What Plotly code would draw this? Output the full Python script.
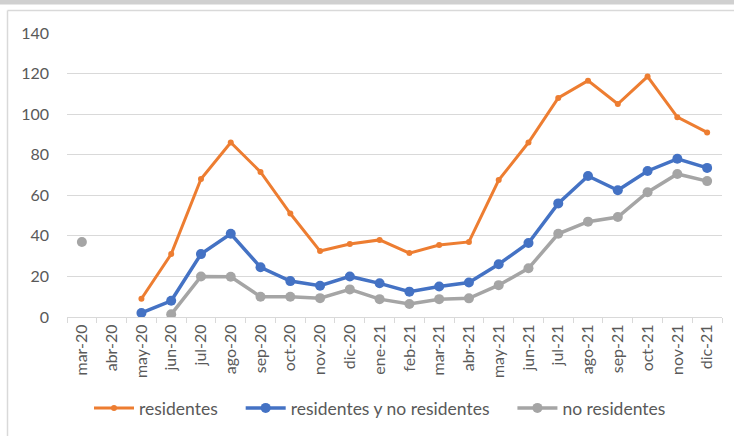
import plotly.graph_objects as go

months = ["mar-20", "abr-20", "may-20", "jun-20", "jul-20", "ago-20", "sep-20", "oct-20",
          "nov-20", "dic-20", "ene-21", "feb-21", "mar-21", "abr-21", "may-21", "jun-21",
          "jul-21", "ago-21", "sep-21", "oct-21", "nov-21", "dic-21"]

residentes = [None, None, 9, 31, 68, 86, 71.5, 51, 32.5, 36, 38, 31.5, 35.5, 37, 67.5, 86,
              108, 116.5, 105, 118.5, 98.5, 91]
res_y_no_res = [None, None, 2, 8, 31, 41, 24.5, 17.7, 15.4, 20, 16.6, 12.5, 15, 17, 26, 36.5,
                56, 69.5, 62.5, 72, 78, 73.5]
no_residentes = [37, None, None, 1.3, 20, 19.8, 10, 10, 9.3, 13.6, 8.8, 6.4, 8.8, 9.2, 15.7, 24,
                 41, 47, 49.3, 61.5, 70.5, 67]

y_ticks = [0, 20, 40, 60, 80, 100, 120, 140]

FONT = "Lato, 'Liberation Sans', sans-serif"
TXT = "#595959"
PAD = "\u00a0" * 4

fig = go.Figure()
fig.add_trace(go.Scatter(x=months, y=residentes, name="residentes" + PAD, mode="lines+markers",
                         line=dict(color="#ED7D31", width=3), marker=dict(size=6, color="#ED7D31"),
                         connectgaps=False))
fig.add_trace(go.Scatter(x=months, y=res_y_no_res, name="residentes y no residentes" + PAD,
                         mode="lines+markers",
                         line=dict(color="#4472C4", width=3.5), marker=dict(size=10, color="#4472C4"),
                         connectgaps=False))
fig.add_trace(go.Scatter(x=months, y=no_residentes, name="no residentes", mode="lines+markers",
                         line=dict(color="#A5A5A5", width=3.5), marker=dict(size=10, color="#A5A5A5"),
                         connectgaps=False))

W, H = 734, 436
L, R, T, B = 67, 734 - 722, 33, 436 - 317
pw, ph = W - L - R, H - T - B

def px(x):
    return (x - L) / pw

def py(y):
    return (H - B - y) / ph

shapes = [
    dict(type="rect", xref="paper", yref="paper", x0=px(-10), x1=px(740), y0=py(-10), y1=py(4.5),
         fillcolor="#D0D0D0", line=dict(width=0), layer="below"),
    dict(type="line", xref="paper", yref="paper", x0=px(7.5), x1=px(740), y0=py(10.5), y1=py(10.5),
         line=dict(color="#D9D9D9", width=1.5)),
    dict(type="line", xref="paper", yref="paper", x0=px(7.5), x1=px(7.5), y0=py(10.5), y1=py(440),
         line=dict(color="#D9D9D9", width=1.5)),
]

fig.update_layout(
    width=W, height=H,
    margin=dict(l=L, r=R, t=T, b=B, autoexpand=False),
    paper_bgcolor="white", plot_bgcolor="white",
    font=dict(family=FONT, color=TXT, size=14),
    shapes=shapes,
    showlegend=True,
    hovermode=False,
    legend=dict(orientation="h", x=px(380), xanchor="center", y=py(408), yanchor="middle",
                font=dict(size=17.5, color=TXT, family=FONT), itemwidth=40,
                traceorder="normal"),
    xaxis=dict(type="category", categoryorder="array", categoryarray=months,
               range=[-0.5, len(months) - 0.5], automargin=False,
               tickangle=-90, tickfont=dict(size=16, color=TXT),
               showgrid=False, showline=True, linecolor="#D9D9D9", linewidth=1,
               ticks="outside", tickson="boundaries", ticklen=5, tickcolor="#D9D9D9",
               zeroline=False),
    yaxis=dict(range=[0, 140], tickvals=y_ticks, tickfont=dict(size=16, color=TXT),
               showgrid=True, gridcolor="#D9D9D9", gridwidth=1, zeroline=False, automargin=False,
               showline=False, ticks="", ticklabelstandoff=17),
)

fig.write_html("out.html", config={"displayModeBar": False},
               post_script="document.body.style.margin='0';document.body.style.overflow='hidden';")
